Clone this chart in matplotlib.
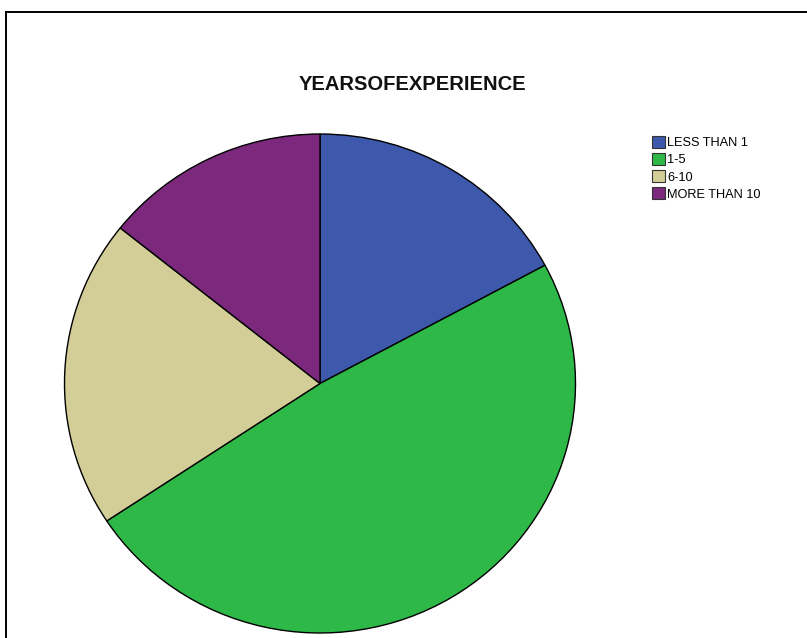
import matplotlib
matplotlib.use("Agg")
import matplotlib.pyplot as plt
from matplotlib.lines import Line2D
from matplotlib.patches import Patch

plt.rcParams['font.family'] = ['Liberation Sans', 'DejaVu Sans']

categories = ["LESS THAN 1", "1-5", "6-10", "MORE THAN 10"]
counts = [12, 34, 14, 10]
colors = ["#3E58AC", "#2EB848", "#D3CE97", "#7B287D"]
title = "YEARSOFEXPERIENCE"

W, H = 807, 638
fig = plt.figure(figsize=(W / 100, H / 100), dpi=100)
fig.patch.set_facecolor("white")

# border lines
fig.add_artist(Line2D([6 / W, 1.0], [1 - 11.5 / H, 1 - 11.5 / H], color="black", lw=1.4))
fig.add_artist(Line2D([6.5 / W, 6.5 / W], [0, 1 - 11.5 / H], color="black", lw=1.4))

left, right, top, bottom = 64.5, 575.5, 134, 633
ax = fig.add_axes([left / W, 1 - bottom / H, (right - left) / W, (bottom - top) / H])
wedges, _ = ax.pie(counts, colors=colors, startangle=90, counterclock=False,
                   wedgeprops=dict(edgecolor="black", linewidth=1.0))
for w in wedges:
    w.set_clip_on(False)
ax.set_aspect("auto")
ax.set_xlim(-1, 1)
ax.set_ylim(-1, 1)
ax.axis("off")

fig.text(412.5 / W, 1 - 84 / H, title, ha="center", va="center",
         fontsize=14.5, fontweight="bold", color="#111111")

handles = [Patch(facecolor=c, edgecolor="#333333", linewidth=0.8) for c in colors]
leg = fig.legend(handles, categories, loc="upper left",
                 bbox_to_anchor=(652 / W, 1 - 136 / H), frameon=False,
                 fontsize=9.2, handlelength=1.05, handleheight=1.05,
                 handletextpad=0.15, labelspacing=0.3, borderaxespad=0,
                 borderpad=0)

fig.savefig("out.png", dpi=100, facecolor="white")
